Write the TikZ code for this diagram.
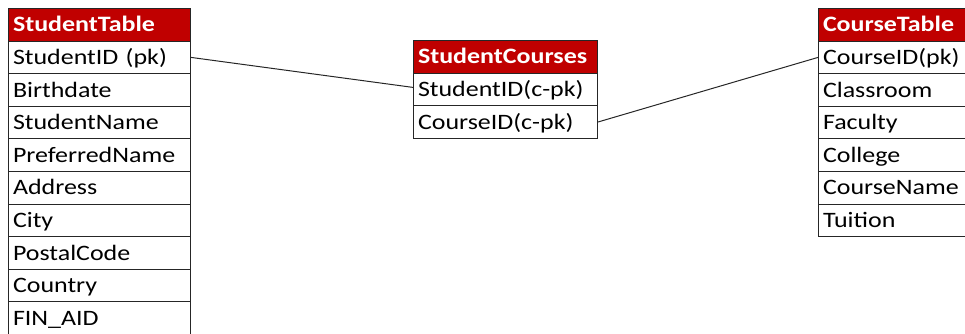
\documentclass[tikz,border=0pt]{standalone}
\usepackage{fontspec}
\setmainfont{Carlito}[FakeStretch=1.18]
\definecolor{hdrred}{HTML}{C00000}
\definecolor{rule}{HTML}{262626}
\begin{document}
\begin{tikzpicture}[x=1pt,y=-1pt,
  cell/.style={draw=rule, line width=1pt, fill=white, anchor=north west,
    minimum height=32.6pt, inner xsep=4.5pt, inner ysep=0pt, align=left,
    text height=14.2pt, text depth=0pt,
    font=\fontsize{22}{24}\selectfont, text=black},
  hdr/.style={cell, fill=hdrred, text=white, font=\fontsize{22}{24}\selectfont\bfseries},
  link/.style={draw=rule, line width=1pt}]
\useasboundingbox (0,0) rectangle (965,333);
\clip (0,0) rectangle (965,333);

% StudentTable
\begin{scope}[every node/.append style={text width=173pt, minimum width=182pt}]
\node[hdr]  (sth) at (8,8)     {StudentTable};
\node[cell] (st1) at (8,40.6)  {StudentID (pk)};
\node[cell] (st2) at (8,73.2)  {Birthdate};
\node[cell] (st3) at (8,105.8) {StudentName};
\node[cell] (st4) at (8,138.4) {PreferredName};
\node[cell] (st5) at (8,171.0) {Address};
\node[cell] (st6) at (8,203.6) {City};
\node[cell] (st7) at (8,236.2) {PostalCode};
\node[cell] (st8) at (8,268.8) {Country};
\node[cell] (st9) at (8,301.4) {FIN\_AID};
\end{scope}

% StudentCourses
\begin{scope}[every node/.append style={text width=175pt, minimum width=184pt}]
\node[hdr]  (sch) at (413,40)    {StudentCourses};
\node[cell] (sc1) at (413,72.6)  {StudentID(c-pk)};
\node[cell] (sc2) at (413,105.2) {CourseID(c-pk)};
\end{scope}

% CourseTable
\begin{scope}[every node/.append style={text width=171pt, minimum width=180pt}]
\node[hdr]  (cth) at (818,8)     {CourseTable};
\node[cell] (ct1) at (818,40.6)  {CourseID(pk)};
\node[cell] (ct2) at (818,73.2)  {Classroom};
\node[cell] (ct3) at (818,105.8) {Faculty};
\node[cell] (ct4) at (818,138.4) {College};
\node[cell] (ct5) at (818,171.0) {CourseName};
\node[cell] (ct6) at (818,203.6) {Tuition};
\end{scope}

% relationships
\draw[link] (st1.east) -- ([yshift=2pt]sc1.west);
\draw[link] (sc2.east) -- (ct1.west);
\end{tikzpicture}
\end{document}
